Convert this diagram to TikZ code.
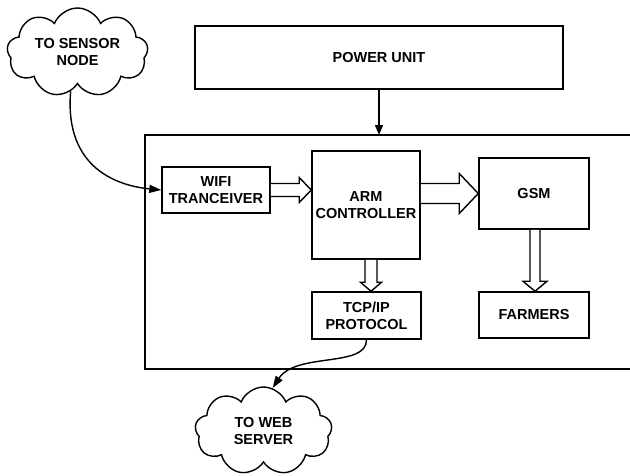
\documentclass[tikz,border=0pt]{standalone}
\usepackage{fontspec}
\setmainfont{Liberation Sans}
\usetikzlibrary{shapes.symbols,arrows.meta,calc}
\begin{document}
\begin{tikzpicture}[x=1pt,y=-1pt,
  box/.style={draw,line width=1.5pt,inner sep=0pt,align=center,
    font=\fontsize{14.5}{17}\selectfont\bfseries},
  cloudnode/.style={cloud,cloud puffs=9,cloud puff arc=135,cloud ignores aspect,
    draw,line width=1.4pt,inner sep=0pt,align=center,
    font=\fontsize{14.5}{17}\selectfont\bfseries},
  hollow/.style={draw,fill=white,line width=1.4pt,line join=miter},
  link/.style={line width=1.4pt},
  tip/.style={-{Triangle[length=12pt,width=8pt]}}]
\useasboundingbox (0,0) rectangle (630,475);
% outer frame (open on the right)
\coordinate (otr) at (630,135);
\coordinate (otl) at (145,135);
\coordinate (obl) at (145,369);
\coordinate (obr) at (630,369);
\draw[line width=1.5pt] (otr) -- (otl) -- (obl) -- (obr);
% nodes
\node[box,minimum width=368pt,minimum height=63pt] (power) at (379,57.5) {POWER UNIT};
\node[box,minimum width=108pt,minimum height=46pt] (wifi) at (216,190) {WIFI\\TRANCEIVER};
\node[box,minimum width=108pt,minimum height=108pt] (arm) at (366,205) {ARM\\CONTROLLER};
\node[box,minimum width=110pt,minimum height=71pt] (gsm) at (534,193.5) {GSM};
\node[box,minimum width=110pt,minimum height=46pt] (farm) at (534,315) {FARMERS};
\node[box,minimum width=109pt,minimum height=47pt] (tcp) at (366.5,315.5) {TCP/IP\\PROTOCOL};
\node[cloudnode,minimum width=141pt,minimum height=89pt] (sensor) at (77.5,52.5) {TO SENSOR\\NODE};
\node[cloudnode,minimum width=137pt,minimum height=88pt] (web) at (263.5,431) {TO WEB\\SERVER};
% power arrow
\coordinate (pin) at (power.south |- otl);
\draw[link,line width=1.6pt,-{Triangle[length=10pt,width=8pt]}] (power.south) -- (pin);
% curved connectors
\draw[link,tip] (sensor.-100) .. controls (64,170) and (120,186) .. (wifi.west);
\draw[link,tip] (tcp.south) .. controls (367,368) and (296,352) .. (web.78);
% block arrows
\coordinate (a1) at (wifi.east);
\coordinate (b1) at (wifi.east -| arm.west);
\draw[hollow] ($(a1)+(0,-6.5)$) -- ($(b1)+(-12,-6.5)$) -- ($(b1)+(-12,-12.5)$) -- (b1)
  -- ($(b1)+(-12,12.5)$) -- ($(b1)+(-12,6.5)$) -- ($(a1)+(0,6.5)$);
\coordinate (a2) at (arm.east |- gsm.west);
\coordinate (b2) at (gsm.west);
\draw[hollow] ($(a2)+(0,-10)$) -- ($(b2)+(-19,-10)$) -- ($(b2)+(-19,-20)$) -- (b2)
  -- ($(b2)+(-19,20)$) -- ($(b2)+(-19,10)$) -- ($(a2)+(0,10)$);
\coordinate (a3) at ($(gsm.south)+(1,0)$);
\coordinate (b3) at (a3 |- farm.north);
\draw[hollow] ($(a3)+(-5,0)$) -- ($(b3)+(-5,-10)$) -- ($(b3)+(-12,-10)$) -- (b3)
  -- ($(b3)+(12,-10)$) -- ($(b3)+(5,-10)$) -- ($(a3)+(5,0)$);
\coordinate (a4) at ($(arm.south)+(5,0)$);
\coordinate (b4) at (a4 |- tcp.north);
\draw[hollow] ($(a4)+(-6,0)$) -- ($(b4)+(-6,-9)$) -- ($(b4)+(-10.5,-9)$) -- (b4)
  -- ($(b4)+(10.5,-9)$) -- ($(b4)+(6,-9)$) -- ($(a4)+(6,0)$);
\end{tikzpicture}
\end{document}
